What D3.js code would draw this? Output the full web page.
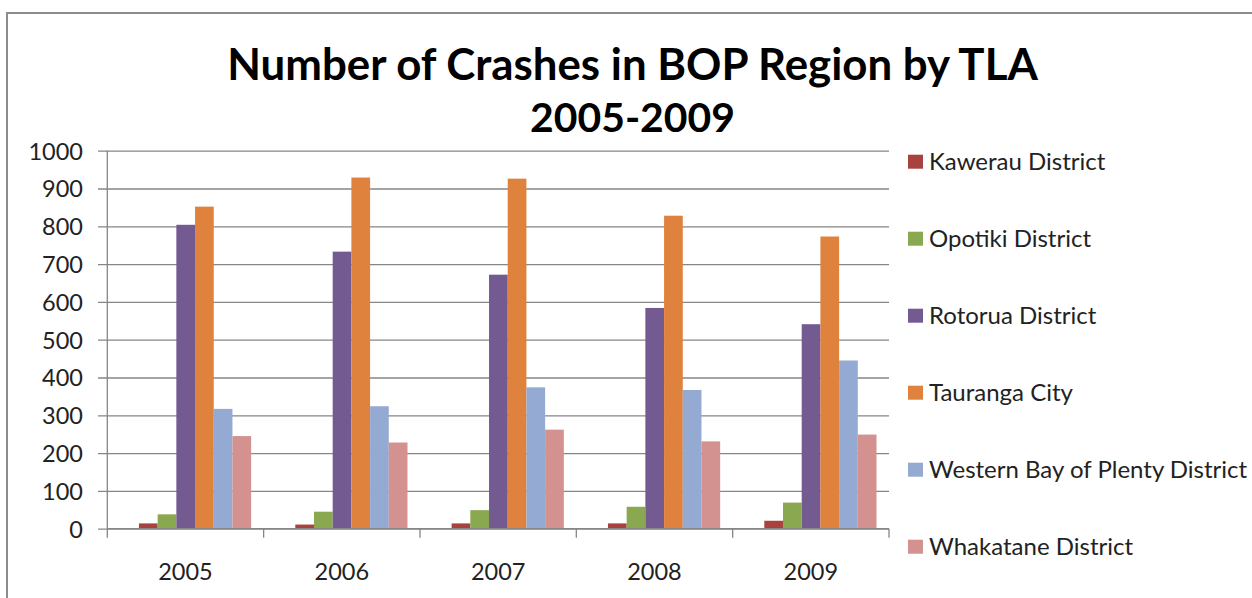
<!DOCTYPE html>
<html>
<head>
<meta charset="utf-8">
<script src="https://cdn.jsdelivr.net/npm/d3@7"></script>
<style>
  body { margin: 0; background: #fff; }
  svg text { font-family: Lato, "Noto Sans", sans-serif; fill: #222; }
</style>
</head>
<body>
<div id="chart"></div>
<script>
//######################## Data ##############################
var years = ["2005","2006","2007","2008","2009"];
var seriesNames = ["Kawerau District","Opotiki District","Rotorua District",
                   "Tauranga City","Western Bay of Plenty District","Whakatane District"];
var seriesColors = ["#A8423F","#8AA84F","#735A91","#DE823E","#95AAD2","#D39190"];
var kawerau   = [14, 11, 14, 14, 21];
var opotiki   = [38, 45, 49, 58, 69];
var rotorua   = [804, 733, 672, 584, 541];
var tauranga  = [852, 929, 926, 828, 773];
var westernBay= [317, 324, 374, 367, 445];
var whakatane = [245, 228, 262, 231, 249];
var yTicks = [0,100,200,300,400,500,600,700,800,900,1000];
var titleLines = ["Number of Crashes in BOP Region by TLA","2005-2009"];

var allSeries = [kawerau, opotiki, rotorua, tauranga, westernBay, whakatane];

//######################## Layout ##############################
var width = 1252, height = 598;
var plotLeft = 107.3, plotRight = 889, plotTop = 150.7, plotBottom = 528.7;
var labelSize = "23.5px";

var svg = d3.select("#chart").append("svg")
			.attr("width",width)
			.attr("height",height);

//chart frame (runs off the right and bottom edges)
svg.append("rect")
	.attr("x",7).attr("y",13)
	.attr("width",width).attr("height",height)
	.attr("fill","none").attr("stroke","#8c8c8c").attr("stroke-width",2);

//Title - each line fitted to the width it has in the reference
var titleWidths = [811, 205];
var title = svg.append("g").attr("class","title");
title.selectAll("text")
	.data(titleLines).enter().append("text")
		.attr("x",632.5)
		.attr("y",function(d,i) { return i == 0 ? 80 : 132; })
		.attr("text-anchor","middle")
		.style("font-weight","bold")
		.style("font-size","40px")
		.style("fill","#000")
		.text(function(d) { return d; })
		.each(function(d,i) {
			var tw = this.getComputedTextLength();
			d3.select(this).style("font-size",(40 * titleWidths[i] / tw)+"px");
		});

//Scales
var x0 = d3.scaleBand().domain(years).range([plotLeft,plotRight]).padding(0);
var x1 = d3.scaleBand().domain(seriesNames).range([0,x0.bandwidth()])
			.paddingInner(0).paddingOuter(1.18).align(0.717);
var y = d3.scaleLinear().domain([0,1000]).range([plotBottom,plotTop]);

//Gridlines + y labels
var yaxis = d3.axisLeft(y).tickValues(yTicks).tickFormat(d3.format("d"))
			.tickSize(-(plotRight - 98)).tickPadding(15);
var gy = svg.append("g").attr("class","yaxis").attr("transform","translate(98,0)").call(yaxis);
gy.select(".domain").remove();
gy.selectAll(".tick line").attr("stroke","#868686").attr("stroke-width",1.3);
gy.selectAll(".tick text").style("font-size",labelSize).attr("dy","0.36em").style("fill","#222");

//vertical axis line
svg.append("line")
	.attr("x1",plotLeft).attr("x2",plotLeft)
	.attr("y1",plotTop).attr("y2",plotBottom)
	.attr("stroke","#868686").attr("stroke-width",1.3);

//Bars
var groups = svg.selectAll("g.data")
	.data(years).enter().append("g")
		.attr("class","data")
		.attr("transform",function(d) { return "translate("+x0(d)+",0)"; });

groups.selectAll("rect")
	.data(function(d,i) { return allSeries.map(function(s,k) { return {name: seriesNames[k], value: s[i], color: seriesColors[k]}; }); })
	.enter().append("rect")
		.attr("x",function(d) { return x1(d.name); })
		.attr("width",x1.bandwidth())
		.attr("y",function(d) { return y(d.value); })
		.attr("height",function(d) { return plotBottom - y(d.value); })
		.attr("fill",function(d) { return d.color; });

//x axis (ticks at category boundaries)
var boundaries = years.map(function(d) { return x0(d); }).concat([plotRight]);
svg.append("line")
	.attr("x1",plotLeft).attr("x2",plotRight)
	.attr("y1",plotBottom).attr("y2",plotBottom)
	.attr("stroke","#868686").attr("stroke-width",1.3);
svg.selectAll("line.xtick")
	.data(boundaries).enter().append("line")
		.attr("class","xtick")
		.attr("x1",function(d) { return d; }).attr("x2",function(d) { return d; })
		.attr("y1",plotBottom).attr("y2",plotBottom + 9)
		.attr("stroke","#868686").attr("stroke-width",1.3);
svg.selectAll("text.xlabel")
	.data(years).enter().append("text")
		.attr("class","xlabel")
		.attr("x",function(d) { return x0(d) + x0.bandwidth()/2; })
		.attr("y",579.5)
		.attr("text-anchor","middle")
		.style("font-size",labelSize)
		.text(function(d) { return d; });

//Legend
var ly = d3.scalePoint().domain(seriesNames).range([161.7,546.7]);
var legend = svg.selectAll("g.legend")
	.data(seriesNames).enter().append("g")
		.attr("class","legend")
		.attr("transform",function(d) { return "translate(908,"+ly(d)+")"; });
legend.append("rect")
	.attr("x",0).attr("y",-7)
	.attr("width",15).attr("height",14)
	.attr("fill",function(d,i) { return seriesColors[i]; });
legend.append("text")
	.attr("x",21).attr("y",0).attr("dy","0.36em")
	.style("font-size","24px")
	.text(function(d) { return d; });
</script>
</body>
</html>
